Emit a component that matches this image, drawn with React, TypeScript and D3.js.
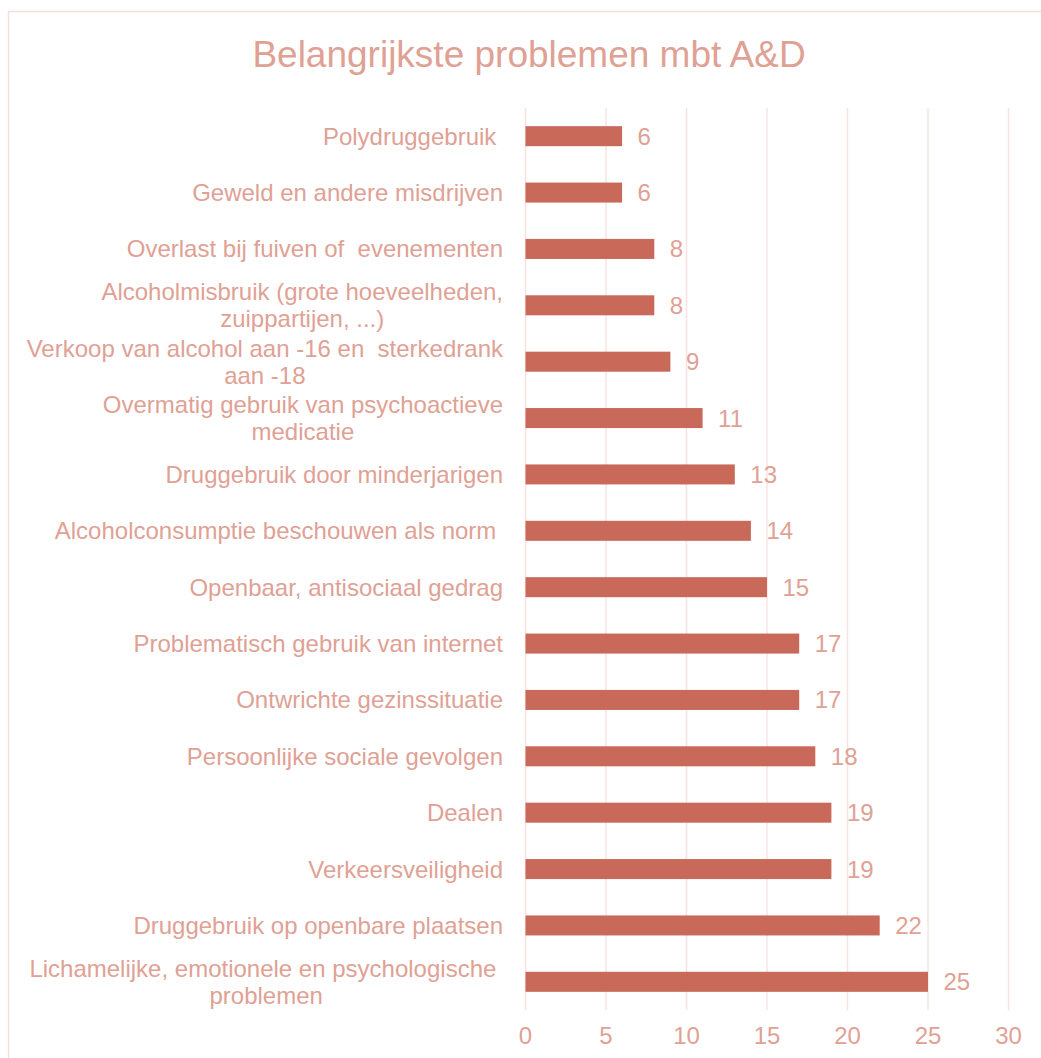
import React, { useEffect, useRef } from "react";
import * as d3 from "d3";

const title = "Belangrijkste problemen mbt A&D";
const categories: string[] = [
  "Polydruggebruik ",
  "Geweld en andere misdrijven",
  "Overlast bij fuiven of  evenementen",
  "Alcoholmisbruik (grote hoeveelheden,\nzuippartijen, ...)",
  "Verkoop van alcohol aan -16 en  sterkedrank\naan -18",
  "Overmatig gebruik van psychoactieve\nmedicatie",
  "Druggebruik door minderjarigen",
  "Alcoholconsumptie beschouwen als norm ",
  "Openbaar, antisociaal gedrag",
  "Problematisch gebruik van internet",
  "Ontwrichte gezinssituatie",
  "Persoonlijke sociale gevolgen",
  "Dealen",
  "Verkeersveiligheid",
  "Druggebruik op openbare plaatsen",
  "Lichamelijke, emotionele en psychologische \nproblemen",
];
const values: number[] = [6, 6, 8, 8, 9, 11, 13, 14, 15, 17, 17, 18, 19, 19, 22, 25];
const xTicks: number[] = [0, 5, 10, 15, 20, 25, 30];

const TEXT = "#E0A195";
const BAR = "#C8695A";
const GRID = "#F8E3E0";
const BORDER = "#F6DDD9";
const FONT = "'Liberation Sans', Arial, sans-serif";

export default function App() {
  const ref = useRef<SVGSVGElement>(null);

  useEffect(() => {
    const svg = d3.select(ref.current);
    svg.selectAll("*").remove();

    const left = 525.5, right = 1008.5, top = 108, bottom = 1010;
    const x = d3.scaleLinear().domain([0, 30]).range([left, right]);
    const y = d3.scaleBand<string>().domain(categories).range([top, bottom]).paddingInner(0.645).paddingOuter(0.3225);

    // border
    svg.append("rect").attr("x", 8.5).attr("y", 11.5).attr("width", 1060).attr("height", 1080)
      .attr("fill", "white").attr("stroke", BORDER).attr("stroke-width", 1.5);

    // title
    svg.append("text").attr("x", 529).attr("y", 67).attr("text-anchor", "middle")
      .attr("font-family", FONT).attr("font-size", 37).attr("fill", TEXT).text(title);

    // grid
    svg.append("g").selectAll("line").data(xTicks).join("line")
      .attr("x1", d => x(d)).attr("x2", d => x(d)).attr("y1", top).attr("y2", bottom)
      .attr("stroke", GRID).attr("stroke-width", 1.5);

    // tick labels
    svg.append("g").selectAll("text").data(xTicks).join("text")
      .attr("x", d => x(d)).attr("y", 1044).attr("text-anchor", "middle")
      .attr("font-family", FONT).attr("font-size", 24).attr("fill", TEXT).text(d => String(d));

    // bars
    svg.append("g").selectAll("rect").data(categories).join("rect")
      .attr("x", x(0)).attr("y", d => y(d)!)
      .attr("width", (d, i) => x(values[i]) - x(0)).attr("height", y.bandwidth())
      .attr("fill", BAR);

    // value labels
    svg.append("g").selectAll("text").data(categories).join("text")
      .attr("x", (d, i) => x(values[i]) + 15.5).attr("y", d => y(d)! + y.bandwidth() / 2 + 8.5)
      .attr("font-family", FONT).attr("font-size", 24).attr("fill", TEXT)
      .text((d, i) => String(values[i]));

    // category labels
    const labelRight = 503;
    const lineH = 27;
    categories.forEach((c) => {
      const lines = c.split("\n");
      const cy = y(c)! + y.bandwidth() / 2;
      const g = svg.append("g");
      const texts = lines.map((ln, j) =>
        g.append("text")
          .attr("y", cy + (j - (lines.length - 1) / 2) * lineH + 8.5)
          .attr("font-family", FONT).attr("font-size", 24).attr("fill", TEXT)
          .style("white-space", "pre").attr("xml:space", "preserve")
          .text(ln)
      );
      if (lines.length === 1) {
        texts[0].attr("x", labelRight).attr("text-anchor", "end");
      } else {
        const widths = texts.map(t => (t.node() as SVGTextElement).getComputedTextLength());
        const maxW = Math.max(...widths);
        const cx = labelRight - maxW / 2;
        texts.forEach(t => t.attr("x", cx).attr("text-anchor", "middle"));
      }
    });
  }, []);

  return (
    <svg ref={ref} width={1041} height={1058}
      style={{ position: "absolute", left: 0, top: 0, display: "block" }} />
  );
}
